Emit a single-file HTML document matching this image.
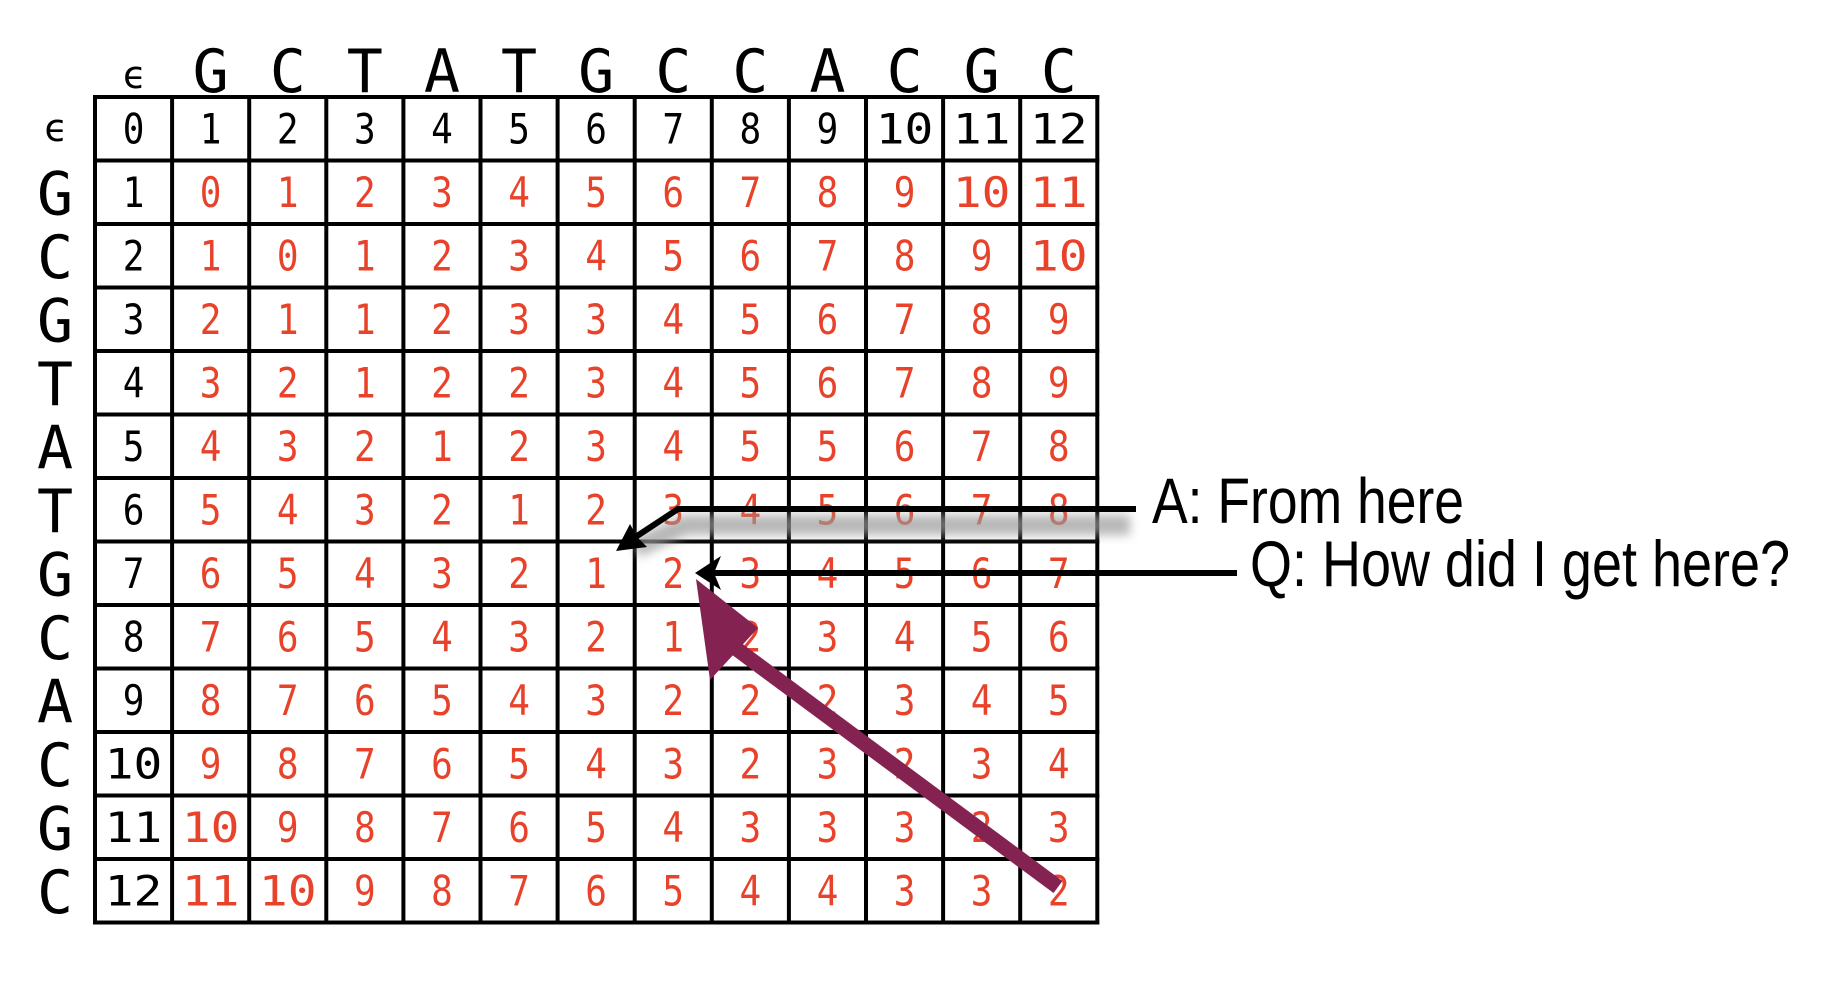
<!DOCTYPE html>
<html><head><meta charset="utf-8"><style>html,body{margin:0;padding:0;background:#fff}svg{display:block}</style></head>
<body>
<svg id="chart" width="1832" height="1002" viewBox="0 0 1832 1002" xmlns="http://www.w3.org/2000/svg">
<defs><filter id="blur" x="-20%" y="-300%" width="140%" height="700%"><feGaussianBlur stdDeviation="5"/></filter></defs>
<g id="grid"></g>
<g id="annot">
  <path d="M635,548 L685,525 L1130,525" stroke="#999" stroke-width="20" fill="none" filter="url(#blur)" opacity="0.7"/>
  <path d="M712,589 L1232,589" stroke="#999" stroke-width="20" fill="none" filter="url(#blur)" opacity="0.7"/>
  <path d="M1136,509 L678,509 L628,542" stroke="#000" stroke-width="6" fill="none"/>
  <polygon points="616,551 630,524 637,537 647,547" fill="#000"/>
  <path d="M1237,573 L708,573" stroke="#000" stroke-width="6" fill="none"/>
  <polygon points="695,573 721,556 714,573 721,590" fill="#000"/>
  <line x1="1058" y1="887" x2="734" y2="647" stroke="#842352" stroke-width="15"/>
  <polygon points="696,579 758,628 710,680" fill="#842352"/>
  <text x="1152" y="523" font-family="Liberation Sans, sans-serif" font-size="64" textLength="312" lengthAdjust="spacingAndGlyphs">A: From here</text>
  <text x="1250" y="586" font-family="Liberation Sans, sans-serif" font-size="65" textLength="540" lengthAdjust="spacingAndGlyphs">Q: How did I get here?</text>
</g>
<script>
const colSeq = ["G","C","T","A","T","G","C","C","A","C","G","C"];
const rowSeq = ["G","C","G","T","A","T","G","C","A","C","G","C"];
const row1 = [0,1,2,3,4,5,6,7,8,9,10,11];
const row2 = [1,0,1,2,3,4,5,6,7,8,9,10];
const row3 = [2,1,1,2,3,3,4,5,6,7,8,9];
const row4 = [3,2,1,2,2,3,4,5,6,7,8,9];
const row5 = [4,3,2,1,2,3,4,5,5,6,7,8];
const row6 = [5,4,3,2,1,2,3,4,5,6,7,8];
const row7 = [6,5,4,3,2,1,2,3,4,5,6,7];
const row8 = [7,6,5,4,3,2,1,2,3,4,5,6];
const row9 = [8,7,6,5,4,3,2,2,2,3,4,5];
const row10 = [9,8,7,6,5,4,3,2,3,2,3,4];
const row11 = [10,9,8,7,6,5,4,3,3,3,2,3];
const row12 = [11,10,9,8,7,6,5,4,4,3,3,2];
const rows = [row1,row2,row3,row4,row5,row6,row7,row8,row9,row10,row11,row12];

const NS = "http://www.w3.org/2000/svg";
const x0 = 95, y0 = 97, cw = 77.1, rh = 63.5;
const g = document.getElementById('grid');
const cx = c => x0 + cw * (c + 0.5);
const cy = r => y0 + rh * (r + 0.5);
function mk(tag, attrs, text) {
  const e = document.createElementNS(NS, tag);
  for (const k in attrs) e.setAttribute(k, attrs[k]);
  if (text !== undefined) e.textContent = text;
  g.appendChild(e);
  return e;
}
const mono = "DejaVu Sans Mono, Liberation Mono, monospace";
const sans = "DejaVu Sans Mono, Liberation Sans, sans-serif";
function num(c, r, v, color) {
  const t = mk('text', {x: cx(c), y: cy(r) + 14, 'text-anchor': 'middle', 'font-family': mono, 'font-size': 40, fill: color}, String(v));
  t.setAttribute('transform', `translate(${cx(c)},${cy(r)}) scale(0.9,1.05) translate(${-cx(c)},${-cy(r)})`);
  if (v >= 10) { t.setAttribute('textLength', 64); t.setAttribute('lengthAdjust', 'spacingAndGlyphs'); }
  return t;
}
let e = mk('text', {x: cx(0), y: 88, 'text-anchor': 'middle', 'font-family': sans, 'font-size': 38}, 'ϵ');


colSeq.forEach((ch, i) => {
  const t = mk('text', {x: cx(i + 1), y: 92, 'text-anchor': 'middle', 'font-family': sans, 'font-size': 60}, ch);
  
  
});
e = mk('text', {x: 55, y: cy(0) + 12, 'text-anchor': 'middle', 'font-family': sans, 'font-size': 38}, 'ϵ');


rowSeq.forEach((ch, i) => {
  const t = mk('text', {x: 55, y: cy(i + 1) + 22, 'text-anchor': 'middle', 'font-family': sans, 'font-size': 60}, ch);
  
  
});
for (let c = 0; c <= 12; c++) {
  const t = num(c, 0, c, '#000');
  
  
}
for (let r = 1; r <= 12; r++) {
  const t = num(0, r, r, '#000');
  
  
}
rows.forEach((vals, ri) => {
  vals.forEach((v, ci) => {
    const t = num(ci + 1, ri + 1, v, '#e8432a');
    
    
  });
});
for (let i = 0; i <= 13; i++) {
  const lv = mk('line', {x1: x0 + cw * i, y1: y0, x2: x0 + cw * i, y2: y0 + rh * 13, stroke: '#000', 'stroke-width': 4, 'stroke-linecap': 'square'});
  
  
  const lh = mk('line', {x1: x0, y1: y0 + rh * i, x2: x0 + cw * 13, y2: y0 + rh * i, stroke: '#000', 'stroke-width': 4, 'stroke-linecap': 'square'});
  
  
}
document.getElementById('chart').appendChild(document.getElementById('annot'));
</script>
</svg>
</body></html>
